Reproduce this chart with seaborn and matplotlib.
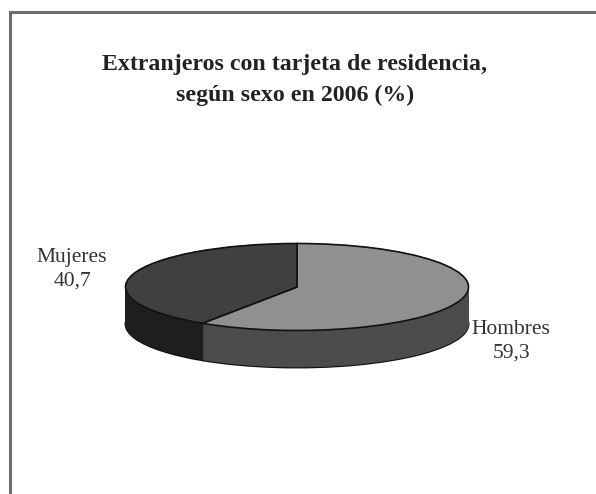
import matplotlib
matplotlib.use("Agg")
import matplotlib.pyplot as plt
import numpy as np
import seaborn as sns

# data
categories = ["Hombres", "Mujeres"]
values = [59.3, 40.7]
value_labels = ["59,3", "40,7"]
title_text = "Extranjeros con tarjeta de residencia,\nsegún sexo en 2006 (%)"

# colours of the top face and of the side wall
top_colors = ["#909090", "#404040"]
side_colors = ["#4c4c4c", "#1e1e1e"]

sns.set_theme(style="white")
plt.rcParams["font.family"] = ["Liberation Serif", "DejaVu Serif"]

W, H = 596, 494
fig = plt.figure(figsize=(W / 100, H / 100), dpi=100, facecolor="white")

# outer frame, only left and top are visible in the picture
frame = fig.add_axes([10 / W, 0, 1, 1 - 12 / H])
frame.set_xticks([])
frame.set_yticks([])
sns.despine(ax=frame, top=False, left=False, right=True, bottom=True)
for side in ["left", "top"]:
    frame.spines[side].set_color("#6e6e6e")
    frame.spines[side].set_linewidth(2.2)
    frame.spines[side].set_visible(True)

# pie axes fill the figure, the unit circle is squashed to an ellipse
cx, cy, rx, ry = 297, 287, 171.5, 43.5
ax = fig.add_axes([0, 0, 1, 1])
ax.patch.set_alpha(0)

# side wall: stacked pies going up from the bottom
depth = 37 / ry
for d in np.linspace(depth, 0, 60):
    edge = {"linewidth": 1.4, "edgecolor": "#111111"} if d == depth else {"linewidth": 0.6}
    wedges = ax.pie(values, colors=side_colors, startangle=90, counterclock=False,
                    center=(0, -d), wedgeprops=edge)[0]
    if d != depth:
        for w, c in zip(wedges, side_colors):
            w.set_edgecolor(c)

# top face
ax.pie(values, colors=top_colors, startangle=90, counterclock=False,
       wedgeprops={"linewidth": 1.2, "edgecolor": "#111111"})

ax.set_aspect("auto")
ax.set_xlim(-cx / rx, (W - cx) / rx)
ax.set_ylim(-(H - cy) / ry, cy / ry)
ax.set_frame_on(False)

# texts, placed in figure pixels
fig.text(295 / W, 1 - 80 / H, title_text, ha="center", va="center", fontsize=17.2,
         fontweight="bold", color="#222222", linespacing=1.55)
fig.text(72 / W, 1 - 269 / H, categories[1] + "\n" + value_labels[1], ha="center", va="center",
         fontsize=15.5, color="#333333", linespacing=1.3)
fig.text(511 / W, 1 - 341 / H, categories[0] + "\n" + value_labels[0], ha="center", va="center",
         fontsize=15.5, color="#333333", linespacing=1.3)

plt.savefig("out.png", dpi=100)
